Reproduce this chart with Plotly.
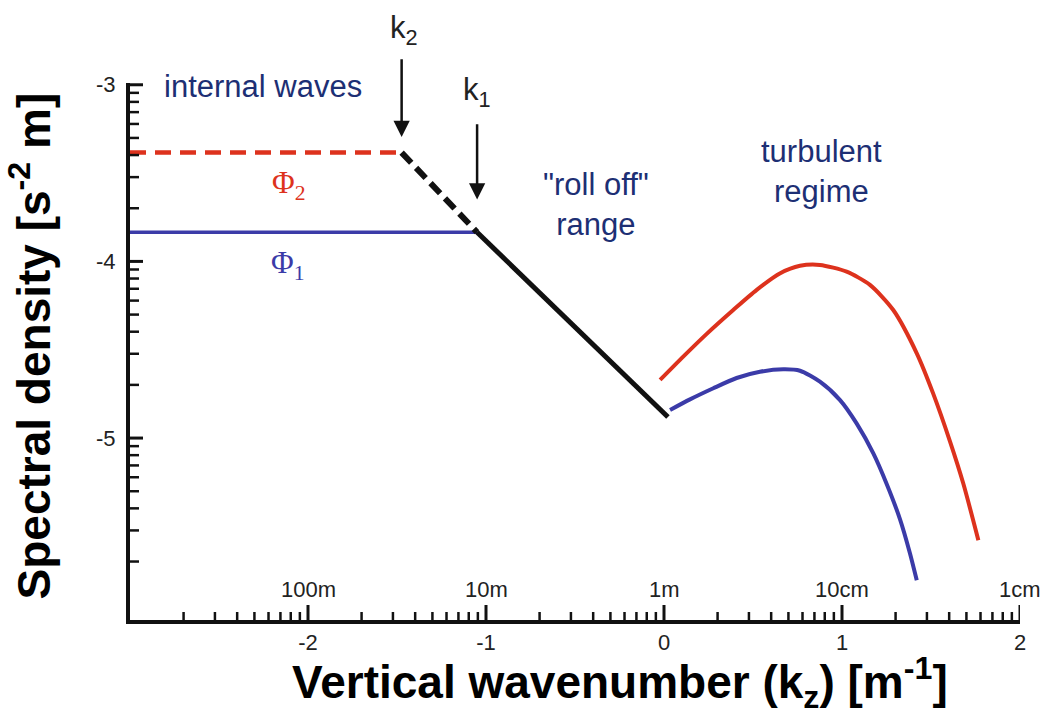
import numpy as np
import plotly.graph_objects as go

# log10 wavenumber / log10 spectral density
k2 = -1.474
k1 = -1.05
phi2_level = -3.384
phi1_level = -3.835

# internal-wave plateaus
plateau2_x = [-3.0, k2]
plateau2_y = [phi2_level, phi2_level]
plateau1_x = [-3.0, k1]
plateau1_y = [phi1_level, phi1_level]

# roll-off range
rolloff_dash_x = [k2, k1]
rolloff_dash_y = [phi2_level, phi1_level]
rolloff_x = [k1, 0.022]
rolloff_y = [phi1_level, -4.881]

# turbulent regime spectra
turb2_x = [-0.022, 0.108, 0.240, 0.389, 0.521, 0.653, 0.764, 0.876, 1.026, 1.157,
           1.288, 1.420, 1.513, 1.607, 1.681, 1.766]
turb2_y = [-4.671, -4.539, -4.410, -4.275, -4.161, -4.067, -4.025, -4.020, -4.058, -4.133,
           -4.275, -4.520, -4.750, -5.020, -5.256, -5.578]
turb1_x = [0.034, 0.146, 0.277, 0.408, 0.539, 0.670, 0.764, 0.876, 0.989, 1.082,
           1.176, 1.251, 1.326, 1.382, 1.420]
turb1_y = [-4.841, -4.781, -4.718, -4.660, -4.625, -4.611, -4.619, -4.681, -4.785, -4.917,
           -5.087, -5.260, -5.460, -5.653, -5.805]

# axis labelling
x_ticks = [-2, -1, 0, 1, 2]
x_ticktext = ["-2", "-1", "0", "1", "2"]
wavelength_text = ["100m", "10m", "1m", "10cm", "1cm"]
y_ticks = [-5, -4, -3]
y_ticktext = ["-5", "-4", "-3"]

RED = "#dd321d"
BLUE = "#3b3ba8"
NAVY = "#1d2f74"
INK = "#111111"

# log-style minor ticks within each decade
x_minor = [d + np.log10(n) for d in range(-3, 2) for n in range(2, 10)]
y_minor = [d + np.log10(n) for d in range(-6, -3) for n in range(2, 10)]

fig = go.Figure()
fig.add_trace(go.Scatter(x=plateau2_x, y=plateau2_y, mode="lines",
                         line=dict(color=RED, width=4.5, dash="16px,9px")))
fig.add_trace(go.Scatter(x=plateau1_x, y=plateau1_y, mode="lines",
                         line=dict(color=BLUE, width=3.5)))
fig.add_trace(go.Scatter(x=rolloff_dash_x, y=rolloff_dash_y, mode="lines",
                         line=dict(color=INK, width=6, dash="14px,7px")))
fig.add_trace(go.Scatter(x=rolloff_x, y=rolloff_y, mode="lines",
                         line=dict(color=INK, width=5)))
fig.add_trace(go.Scatter(x=turb2_x, y=turb2_y, mode="lines",
                         line=dict(color=RED, width=4, shape="spline", smoothing=0.7)))
fig.add_trace(go.Scatter(x=turb1_x, y=turb1_y, mode="lines",
                         line=dict(color=BLUE, width=4, shape="spline", smoothing=0.7)))

# inward-pointing tick marks (major + log minor), sized in pixels
shapes = []
for v in x_ticks:
    shapes.append(dict(type="line", xref="x", yref="paper", ysizemode="pixel", yanchor=0,
                       x0=v, x1=v, y0=0, y1=15, line=dict(color=INK, width=3)))
for v in x_minor:
    shapes.append(dict(type="line", xref="x", yref="paper", ysizemode="pixel", yanchor=0,
                       x0=v, x1=v, y0=0, y1=8, line=dict(color=INK, width=2.5)))
for v in y_ticks:
    shapes.append(dict(type="line", xref="paper", yref="y", xsizemode="pixel", xanchor=0,
                       x0=0, x1=13, y0=v, y1=v, line=dict(color=INK, width=3)))
for v in y_minor:
    shapes.append(dict(type="line", xref="paper", yref="y", xsizemode="pixel", xanchor=0,
                       x0=0, x1=9, y0=v, y1=v, line=dict(color=INK, width=2.5)))

annotations = []
# wavelength labels just above the x axis
for xv, t in zip(x_ticks, wavelength_text):
    annotations.append(dict(x=xv, y=0, xref="x", yref="paper", text=t, showarrow=False,
                            yanchor="bottom", yshift=16,
                            font=dict(family="Liberation Sans, Arial", size=22, color="#222")))

# k1 / k2 arrows
annotations.append(dict(x=k2, y=-3.295, xref="x", yref="y", ax=k2, ay=-2.847,
                        axref="x", ayref="y", text="", showarrow=True, arrowhead=2,
                        arrowsize=1.3, arrowwidth=2.5, arrowcolor=INK))
annotations.append(dict(x=k1, y=-3.65, xref="x", yref="y", ax=k1, ay=-3.215,
                        axref="x", ayref="y", text="", showarrow=True, arrowhead=2,
                        arrowsize=1.3, arrowwidth=2.5, arrowcolor=INK))
annotations.append(dict(x=k2, y=1.14, xref="x", yref="paper", text="k<sub>2</sub>",
                        showarrow=False, xshift=2,
                        font=dict(family="Liberation Sans, Arial", size=31, color="#222")))
annotations.append(dict(x=k1, y=-3.04, xref="x", yref="y", text="k<sub>1</sub>",
                        showarrow=False, xshift=0,
                        font=dict(family="Liberation Sans, Arial", size=31, color="#222")))

# Φ labels
annotations.append(dict(x=-2.107, y=-3.57, xref="x", yref="y", text="Φ<sub>2</sub>",
                        showarrow=False,
                        font=dict(family="Liberation Serif, Times New Roman", size=31, color=RED)))
annotations.append(dict(x=-2.11, y=-4.02, xref="x", yref="y", text="Φ<sub>1</sub>",
                        showarrow=False,
                        font=dict(family="Liberation Serif, Times New Roman", size=31, color=BLUE)))

# regime labels
region_font = dict(family="Liberation Sans, Arial", size=31, color=NAVY)
annotations.append(dict(x=-2.255, y=-3.012, xref="x", yref="y", text="internal waves",
                        showarrow=False, font=region_font))
annotations.append(dict(x=-0.38, y=-3.675, xref="x", yref="y",
                        text="\"roll off\"<br>range", showarrow=False, font=region_font))
annotations.append(dict(x=0.885, y=-3.49, xref="x", yref="y",
                        text="turbulent<br>regime", showarrow=False, font=region_font))

# axis titles
annotations.append(dict(x=0.551, y=-0.052, xref="paper", yref="paper",
                        xanchor="center", yanchor="top",
                        text="<b>Vertical wavenumber (k<sub>z</sub>) [m<sup>-1</sup>]</b>",
                        showarrow=False,
                        font=dict(family="Liberation Sans, Arial", size=46, color="#000")))
annotations.append(dict(x=-0.112, y=0.51, xref="paper", yref="paper",
                        xanchor="center", yanchor="middle",
                        text="<b>Spectral density [s<sup>-2</sup> m]</b>", textangle=-90,
                        showarrow=False,
                        font=dict(family="Liberation Sans, Arial", size=46, color="#000")))

axis_common = dict(showline=True, linewidth=4, linecolor=INK, showgrid=False,
                   zeroline=False, ticks="",
                   tickfont=dict(family="Liberation Sans, Arial", size=22, color="#222"))

fig.update_layout(
    width=1040, height=718,
    margin=dict(l=130, r=20, t=83, b=98),
    paper_bgcolor="white", plot_bgcolor="white",
    showlegend=False,
    shapes=shapes,
    annotations=annotations,
    xaxis=dict(range=[-3.0, 2.0], tickmode="array", tickvals=x_ticks, ticktext=x_ticktext,
               ticklabelstandoff=0, **axis_common),
    yaxis=dict(range=[-6.03, -2.99], tickmode="array", tickvals=y_ticks, ticktext=y_ticktext,
               ticklabelstandoff=6, **axis_common),
)

fig.write_html("out.html")
